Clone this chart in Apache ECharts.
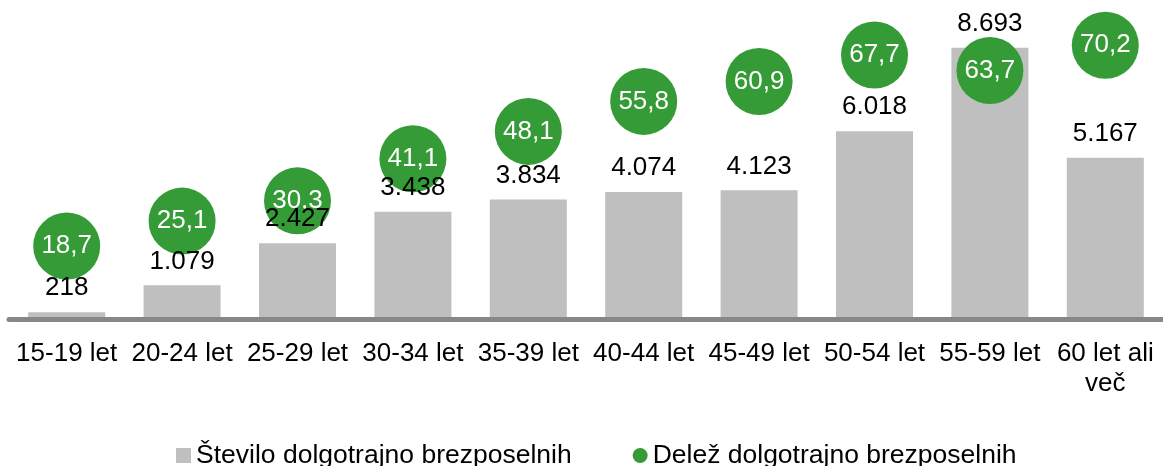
<!DOCTYPE html>
<html>
<head>
<meta charset="utf-8">
<script src="https://cdn.jsdelivr.net/npm/echarts@6/dist/echarts.min.js"></script>
<style>
	html, body { margin: 0; padding: 0; background: #fff; }
	#chart { width: 1163px; height: 466px; }
</style>
</head>
<body>
<div id="chart"></div>
<script>
	// kategorije (starostne skupine)
	const categories = ['15-19 let', '20-24 let', '25-29 let', '30-34 let', '35-39 let', '40-44 let', '45-49 let', '50-54 let', '55-59 let', '60 let ali\nveč'];
	// število dolgotrajno brezposelnih
	const countData = [218, 1079, 2427, 3438, 3834, 4074, 4123, 6018, 8693, 5167];
	// delež dolgotrajno brezposelnih (%)
	const shareData = [18.7, 25.1, 30.3, 41.1, 48.1, 55.8, 60.9, 67.7, 63.7, 70.2];

	const fontFamily = '"Liberation Sans", Arial, sans-serif';

	const numFormat = (v) => v >= 1000 ? Math.floor(v / 1000) + '.' + String(v % 1000).padStart(3, '0') : String(v);

	const myChart = echarts.init(document.getElementById('chart'));
	const option = {
		backgroundColor: '#fff',
		animation: false,
		textStyle: { fontFamily: fontFamily },
		grid: {
			left: 9,
			right: -10,
			top: 7,
			bottom: 147,
			containLabel: false
		},
		legend: {
			left: 171,
			top: 437,
			itemGap: 61,
			itemWidth: 15,
			itemHeight: 15,
			textStyle: { fontSize: 26.5, color: '#000', fontFamily: fontFamily },
			data: [
				{ name: 'Število dolgotrajno brezposelnih', icon: 'rect' },
				{ name: 'Delež dolgotrajno brezposelnih', icon: 'circle' }
			]
		},
		xAxis: {
			type: 'category',
			data: categories,
			z: 5,
			axisLine: { show: true, lineStyle: { color: '#878787', width: 5 } },
			axisTick: { show: false },
			axisLabel: {
				interval: 0,
				margin: 20,
				fontSize: 26,
				lineHeight: 30,
				color: '#000',
				fontFamily: fontFamily
			}
		},
		yAxis: [
			{ type: 'value', min: 0, max: 10000, show: false, splitLine: { show: false } },
			{ type: 'value', min: 0, max: 80, show: false, splitLine: { show: false } }
		],
		series: [
			{
				name: 'Število dolgotrajno brezposelnih',
				type: 'bar',
				data: countData,
				barWidth: 77,
				z: 2,
				itemStyle: { color: '#bfbfbf' }
			},
			{
				name: 'Delež dolgotrajno brezposelnih',
				type: 'scatter',
				yAxisIndex: 1,
				data: shareData,
				symbol: 'circle',
				symbolSize: 67,
				z: 3,
				itemStyle: { color: '#349b36', opacity: 1 },
				label: {
					show: true,
					position: 'inside',
					fontSize: 26,
					color: '#fff',
					fontFamily: fontFamily,
					formatter: (p) => String(p.value).replace('.', ',')
				}
			},
			{
				// oznake stolpcev nad krogi
				name: 'oznake',
				type: 'bar',
				data: countData,
				barWidth: 77,
				barGap: '-100%',
				z: 4,
				zlevel: 1,
				silent: true,
				itemStyle: { color: 'rgba(0,0,0,0)' },
				label: {
					show: true,
					position: 'top',
					distance: 11,
					fontSize: 26,
					color: '#000',
					fontFamily: fontFamily,
					formatter: (p) => numFormat(p.value)
				}
			}
		]
	};
	myChart.setOption(option);
</script>
</body>
</html>
